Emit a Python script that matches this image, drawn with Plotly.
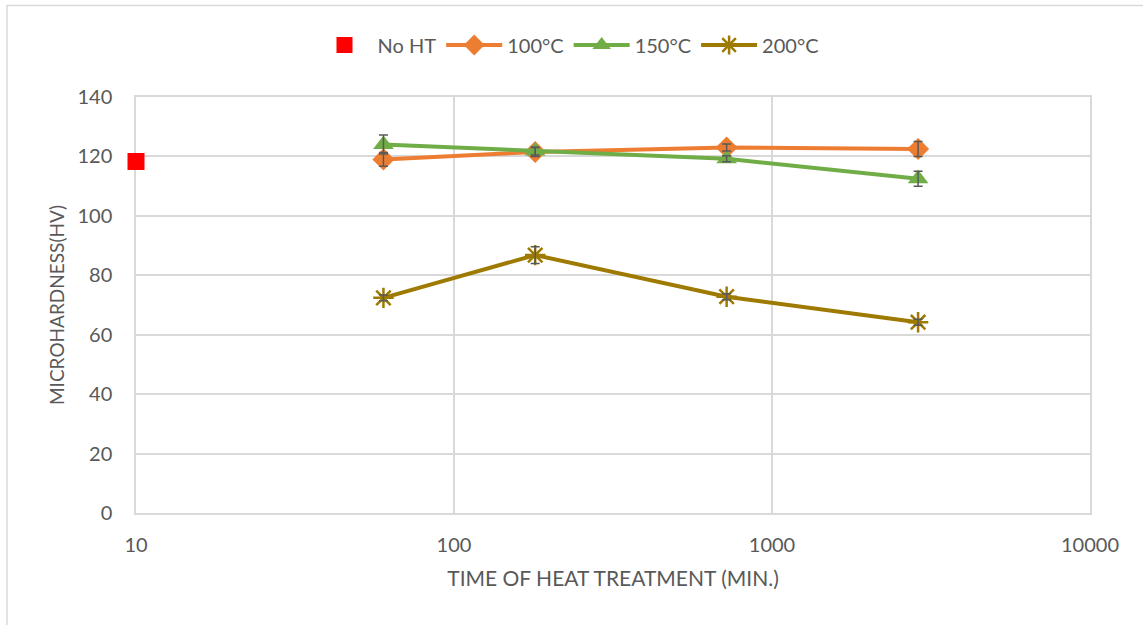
import plotly.graph_objects as go

times = [60, 180, 720, 2880]
noht_x = [10]
noht_y = [118.3]
hv_100 = [119.0, 121.5, 123.0, 122.5]
err_100 = [2.3, 1.5, 1.2, 2.5]
hv_150 = [124.0, 121.8, 119.2, 112.5]
err_150 = [3.2, 1.3, 1.0, 2.5]
hv_200 = [72.4, 86.8, 72.8, 64.2]
err_200 = [1.0, 2.8, 1.0, 1.0]

names = ["No HT", "100°C", "150°C", "200°C"]
colors = ["#FF0000", "#ED7D31", "#70AD47", "#9E7A00"]
ERR_COLOR = "#595959"
FONT = "Lato, Open Sans, sans-serif"

fig = go.Figure()
fig.add_trace(go.Scatter(x=noht_x, y=noht_y, mode="markers", name=names[0],
                         marker=dict(symbol="square", size=17, color=colors[0]),
                         cliponaxis=False))
fig.add_trace(go.Scatter(x=times, y=hv_100, mode="lines+markers", name=names[1],
                         line=dict(color=colors[1], width=4),
                         marker=dict(symbol="diamond", size=17, color=colors[1])))
fig.add_trace(go.Scatter(x=times, y=hv_150, mode="lines+markers", name=names[2],
                         line=dict(color=colors[2], width=4),
                         marker=dict(symbol="triangle-up", size=18, color=colors[2])))
fig.add_trace(go.Scatter(x=times, y=hv_200, mode="lines+markers", name=names[3],
                         line=dict(color=colors[3], width=4),
                         marker=dict(symbol="asterisk-open", size=17, color=colors[3],
                                     line=dict(color=colors[3], width=2.5))))

# error bars drawn on top of the markers
for vals, errs in [(hv_100, err_100), (hv_150, err_150), (hv_200, err_200)]:
    fig.add_trace(go.Scatter(x=times, y=vals, mode="markers", showlegend=False, hoverinfo="skip",
                             marker=dict(size=1, opacity=0),
                             error_y=dict(type="data", array=errs, color=ERR_COLOR, thickness=1.5, width=4.5)))

# outer chart border (plot area spans px 136..1090, 97..513)
def px2x(px):
    return (px - 136) / 954.0
def py2y(py):
    return (513 - py) / 416.0

fig.add_shape(type="rect", xref="paper", yref="paper",
              x0=px2x(7), x1=px2x(1160), y0=py2y(640), y1=py2y(5.5),
              line=dict(color="#D9D9D9", width=1.5), fillcolor="rgba(0,0,0,0)", layer="below")

fig.update_layout(
    width=1143, height=625,
    margin=dict(l=136, r=53, t=97, b=112),
    paper_bgcolor="white", plot_bgcolor="white",
    font=dict(family=FONT, size=20, color="#595959"),
    showlegend=True,
    legend=dict(orientation="h", x=px2x(568), xanchor="center", y=py2y(45), yanchor="middle",
                font=dict(size=20, color="#595959"), itemwidth=56, traceorder="normal"),
    xaxis=dict(type="log", range=[1, 4], tickvals=[10, 100, 1000, 10000],
               ticktext=["10", "100", "1000", "10000"],
               showgrid=True, gridcolor="#D9D9D9", gridwidth=1.5,
               showline=True, linecolor="#D9D9D9", linewidth=1.5, mirror=True,
               ticks="", zeroline=False, ticklabelstandoff=13, layer="below traces",
               tickfont=dict(size=20),
               title=dict(text="TIME OF HEAT TREATMENT (MIN.)", font=dict(size=21, color="#595959"), standoff=17)),
    yaxis=dict(range=[0, 140], tickvals=[0, 20, 40, 60, 80, 100, 120, 140],
               showgrid=True, gridcolor="#D9D9D9", gridwidth=1.5,
               showline=True, linecolor="#D9D9D9", linewidth=1.5, mirror=True,
               ticks="", zeroline=False, ticklabelstandoff=18, layer="below traces",
               tickfont=dict(size=20),
               title=dict(text="MICROHARDNESS(HV)", font=dict(size=19, color="#595959"), standoff=8)),
)

fig.write_html("out.html")
